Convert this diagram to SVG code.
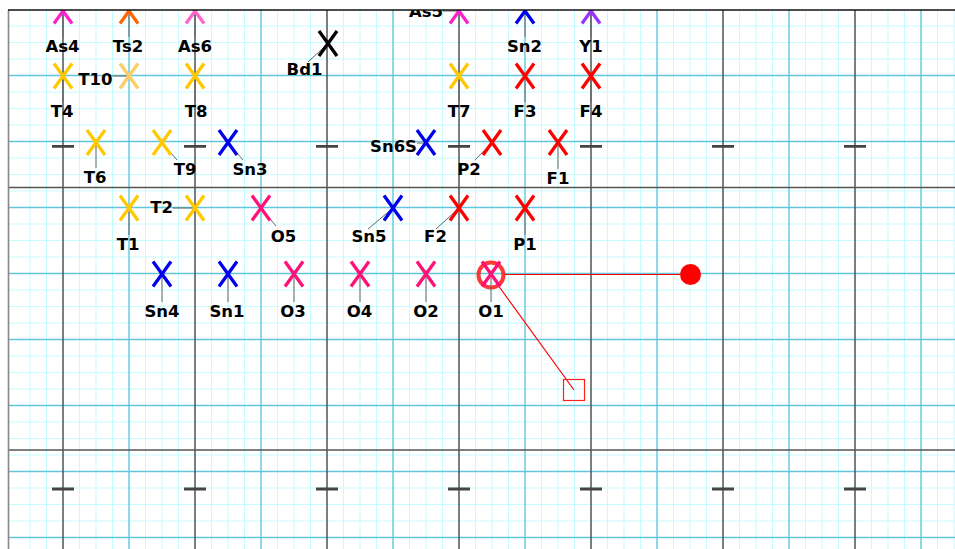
<svg xmlns="http://www.w3.org/2000/svg" xmlns:xlink="http://www.w3.org/1999/xlink" width="955" height="549" viewBox="0 0 955 549">
<style>
.minor{stroke:#c6fbff;stroke-width:1;fill:none}
.major{stroke:#62c5dc;stroke-width:1.3;fill:none}
.dark{stroke:#555;stroke-width:1.5;fill:none}
.tick{stroke:#444;stroke-width:2.8;fill:none}
.lead{stroke:#666;stroke-width:1;fill:none}
.lbl{font-family:"DejaVu Sans",Verdana,sans-serif;font-weight:bold;font-size:16.5px;fill:#000;text-anchor:middle}
.end{text-anchor:end}
.red{stroke:#ff0000;stroke-width:1.2;fill:none}
</style>
<defs>
<path id="x" d="M-9,-12.5L9,12.5M9,-12.5L-9,12.5" stroke-width="3.3" fill="none"/>
<clipPath id="plot"><rect x="8.5" y="10" width="947" height="540"/></clipPath>
</defs>
<rect width="955" height="549" fill="#fff"/>
<g clip-path="url(#plot)">
<g id="grid">
<path class="minor" d="M30 0V549M46.5 0V549M63 0V549M79.5 0V549M96 0V549M112.5 0V549M129 0V549M145.5 0V549M162 0V549M178.5 0V549M195 0V549M211.5 0V549M228 0V549M244.5 0V549M261 0V549M277.5 0V549M294 0V549M310.5 0V549M327 0V549M343.5 0V549M360 0V549M376.5 0V549M393 0V549M409.5 0V549M426 0V549M442.5 0V549M459 0V549M475.5 0V549M492 0V549M508.5 0V549M525 0V549M541.5 0V549M558 0V549M574.5 0V549M591 0V549M607.5 0V549M624 0V549M640.5 0V549M657 0V549M673.5 0V549M690 0V549M706.5 0V549M723 0V549M739.5 0V549M756 0V549M772.5 0V549M789 0V549M805.5 0V549M822 0V549M838.5 0V549M855 0V549M871.5 0V549M888 0V549M904.5 0V549M921 0V549M937.5 0V549M954 0V549"/>
<path class="minor" d="M0 26H955M0 42.5H955M0 59H955M0 75.5H955M0 92H955M0 108.5H955M0 125H955M0 141.5H955M0 158H955M0 174.5H955M0 191H955M0 207.5H955M0 224H955M0 240.5H955M0 257H955M0 273.5H955M0 290H955M0 306.5H955M0 323H955M0 339.5H955M0 356H955M0 372.5H955M0 389H955M0 405.5H955M0 422H955M0 438.5H955M0 455H955M0 471.5H955M0 488H955M0 504.5H955M0 521H955M0 537.5H955"/>
<path class="major" d="M129 0V549M261 0V549M393 0V549M525 0V549M657 0V549M789 0V549M921 0V549M0 75.5H955M0 141.5H955M0 207.5H955M0 273.5H955M0 339.5H955M0 405.5H955M0 471.5H955M0 537.5H955"/>
<path class="dark" d="M63 0V549M195 0V549M327 0V549M459 0V549M591 0V549M723 0V549M855 0V549M0 187.5H955M0 450H955"/>
<path class="tick" d="M52 146.3H74M184 146.3H206M316 146.3H338M448 146.3H470M580 146.3H602M712 146.3H734M844 146.3H866M52 489H74M184 489H206M316 489H338M448 489H470M580 489H602M712 489H734M844 489H866"/>
</g>
<g id="connectors">
<path class="red" d="M504 274.5H680"/>
<path class="red" d="M499 286.5L574 390"/>
</g>
<g id="target-ring"><circle cx="491" cy="275" r="12.5" fill="none" stroke="#ff1e1e" stroke-width="4" opacity="0.88"/></g>
<g id="end-dot"><circle cx="690.5" cy="274.5" r="10.5" fill="#ff0000"/></g>
<g id="end-square"><rect x="563.5" y="379.5" width="21" height="21" fill="none" stroke="#ff2020" stroke-width="1.2"/></g>

<g id="As4"><path class="lead" d="M63 11V37"/><use xlink:href="#x" x="63" y="11" stroke="#ff22cc"/><text class="lbl" x="62.5" y="52">As4</text></g>
<g id="Ts2"><path class="lead" d="M129 11V37"/><use xlink:href="#x" x="129" y="11" stroke="#ff6600"/><text class="lbl" x="128" y="52">Ts2</text></g>
<g id="As6"><path class="lead" d="M195 11V37"/><use xlink:href="#x" x="195" y="11" stroke="#ff66cc"/><text class="lbl" x="195" y="52">As6</text></g>
<g id="As5"><path class="lead" d="M443 11H459"/><use xlink:href="#x" x="459" y="11" stroke="#ff22cc"/><text class="lbl end" x="443" y="17">As5</text></g>
<g id="Sn2"><path class="lead" d="M525 11V37"/><use xlink:href="#x" x="525" y="11" stroke="#0000ee"/><text class="lbl" x="524.5" y="52">Sn2</text></g>
<g id="Y1"><path class="lead" d="M591 11V37"/><use xlink:href="#x" x="591" y="11" stroke="#9933ff"/><text class="lbl" x="591" y="52">Y1</text></g>
<g id="Bd1"><path class="lead" d="M328 43.5L308 62"/><use xlink:href="#x" x="328" y="43.5" stroke="#000"/><text class="lbl" x="304.5" y="75">Bd1</text></g>

<g id="T4"><path class="lead" d="M63 76V102"/><use xlink:href="#x" x="63" y="76" stroke="#ffc800"/><text class="lbl" x="62" y="117">T4</text></g>
<g id="T10"><path class="lead" d="M112.5 76H129"/><use xlink:href="#x" x="129" y="76" stroke="#ffcc66"/><text class="lbl end" x="112.5" y="85">T10</text></g>
<g id="T8"><path class="lead" d="M195 76V102"/><use xlink:href="#x" x="195" y="76" stroke="#ffc800"/><text class="lbl" x="196" y="117">T8</text></g>
<g id="T7"><path class="lead" d="M459 76V102"/><use xlink:href="#x" x="459" y="76" stroke="#ffc800"/><text class="lbl" x="459" y="117">T7</text></g>
<g id="F3"><path class="lead" d="M525 76V102"/><use xlink:href="#x" x="525" y="76" stroke="#ff0000"/><text class="lbl" x="525" y="117">F3</text></g>
<g id="F4"><path class="lead" d="M591 76V102"/><use xlink:href="#x" x="591" y="76" stroke="#ff0000"/><text class="lbl" x="591" y="117">F4</text></g>

<g id="T6"><path class="lead" d="M96 142.5V168"/><use xlink:href="#x" x="96" y="142.5" stroke="#ffc800"/><text class="lbl" x="95" y="183">T6</text></g>
<g id="T9"><path class="lead" d="M162 142.5L177 160"/><use xlink:href="#x" x="162" y="142.5" stroke="#ffc800"/><text class="lbl" x="185" y="175">T9</text></g>
<g id="Sn3"><path class="lead" d="M228 142.5L243 160"/><use xlink:href="#x" x="228" y="142.5" stroke="#0000ee"/><text class="lbl" x="250" y="175">Sn3</text></g>
<g id="Sn6S"><path class="lead" d="M417 143H426"/><use xlink:href="#x" x="426" y="142.5" stroke="#0000ee"/><text class="lbl end" x="417" y="152">Sn6S</text></g>
<g id="P2"><path class="lead" d="M492 142.5L475 160"/><use xlink:href="#x" x="492" y="142.5" stroke="#ff0000"/><text class="lbl" x="469" y="175">P2</text></g>
<g id="F1"><path class="lead" d="M558 142.5V169"/><use xlink:href="#x" x="558" y="142.5" stroke="#ff0000"/><text class="lbl" x="558" y="184">F1</text></g>

<g id="T1"><path class="lead" d="M129 208V235"/><use xlink:href="#x" x="129" y="208" stroke="#ffc800"/><text class="lbl" x="128" y="250">T1</text></g>
<g id="T2"><path class="lead" d="M173 208H195"/><use xlink:href="#x" x="195" y="208" stroke="#ffc800"/><text class="lbl end" x="173" y="213">T2</text></g>
<g id="O5"><path class="lead" d="M261 208L276 226"/><use xlink:href="#x" x="261" y="208" stroke="#ff1177"/><text class="lbl" x="283.5" y="242">O5</text></g>
<g id="Sn5"><path class="lead" d="M393 208L368 229"/><use xlink:href="#x" x="393" y="208" stroke="#0000ee"/><text class="lbl" x="369" y="242">Sn5</text></g>
<g id="F2"><path class="lead" d="M459 208L436 229"/><use xlink:href="#x" x="459" y="208" stroke="#ff0000"/><text class="lbl" x="435.5" y="242">F2</text></g>
<g id="P1"><path class="lead" d="M525 208V235"/><use xlink:href="#x" x="525" y="208" stroke="#ff0000"/><text class="lbl" x="525" y="250">P1</text></g>

<g id="Sn4"><path class="lead" d="M162 274V302"/><use xlink:href="#x" x="162" y="274" stroke="#0000ee"/><text class="lbl" x="162" y="317">Sn4</text></g>
<g id="Sn1"><path class="lead" d="M228 274V302"/><use xlink:href="#x" x="228" y="274" stroke="#0000ee"/><text class="lbl" x="227" y="317">Sn1</text></g>
<g id="O3"><path class="lead" d="M294 274V302"/><use xlink:href="#x" x="294" y="274" stroke="#ff1177"/><text class="lbl" x="293" y="317">O3</text></g>
<g id="O4"><path class="lead" d="M360 274V302"/><use xlink:href="#x" x="360" y="274" stroke="#ff1177"/><text class="lbl" x="359.5" y="317">O4</text></g>
<g id="O2"><path class="lead" d="M426 274V302"/><use xlink:href="#x" x="426" y="274" stroke="#ff1177"/><text class="lbl" x="426" y="317">O2</text></g>
<g id="O1"><path class="lead" d="M491 274V302"/><use xlink:href="#x" x="491" y="274" stroke="#ff1177"/><text class="lbl" x="491" y="317">O1</text></g>
</g>
<g id="frame">
<path d="M8.5 10V549" stroke="#888" stroke-width="1.6" fill="none"/>
<path d="M8 10H955" stroke="#111" stroke-width="1.6" fill="none"/>
</g>
</svg>
